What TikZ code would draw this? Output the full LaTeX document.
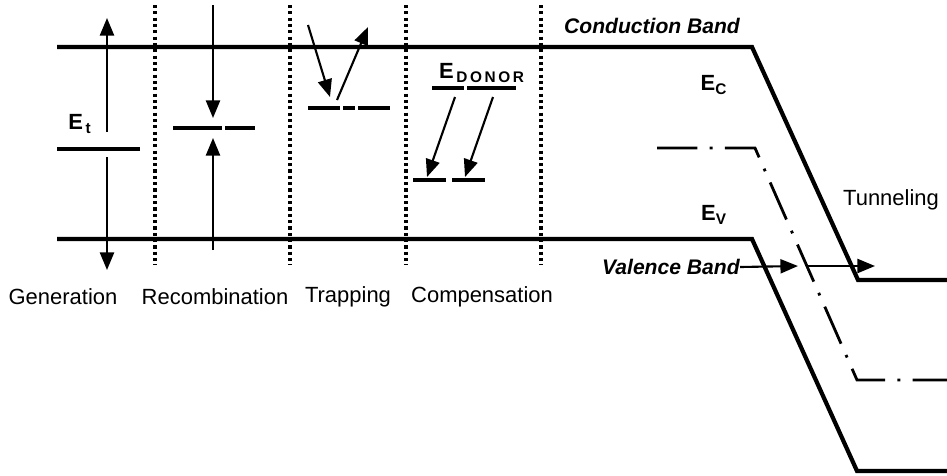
\documentclass[tikz,border=0pt]{standalone}
\usepackage{fontspec}
\setmainfont{Liberation Sans}
\usetikzlibrary{arrows.meta}

\newcommand\lev[2]{\textbf{#1}\textsubscript{\textbf{#2}}}

\tikzset{
  band/.style={line width=2.4pt},
  level/.style={line width=2.4pt},
  sep/.style={line width=1.8pt, dash pattern=on 1.8pt off 1.8pt},
  trans/.style={line width=1.2pt, -{Triangle[length=10pt,width=8pt]}},
  lbl/.style={font=\fontsize{12.5}{14}\selectfont},
  blbl/.style={font=\bfseries\itshape\fontsize{12}{14}\selectfont}
}

\begin{document}
\begin{tikzpicture}[x=0.2mm,y=-0.2mm]
\useasboundingbox (0,0) rectangle (947,475);
% bands
\draw [band] (57,47) -- (752,47) -- (858,280) -- (947,280);
\draw [band] (57,239) -- (752,239) -- (857,471) -- (947,471);
\draw [line width=1.6pt, dash pattern=on 23pt off 7pt on 1.6pt off 7pt] (657,148) -- (755,148) -- (857,380) -- (947,380);
% separators
\foreach \x in {155,290,406,541}
  \draw [sep] (\x,5) -- (\x,265);
% generation
\draw [level] (57,149) -- (140,149);
\draw [trans] (107,132) -- (107,18);
\draw [trans] (107,157) -- (107,270);
\node [lbl] (et) at (80,124) {\lev{E}{\,t}};
% recombination
\draw [level] (173,128) -- (222,128);
\draw [level] (225,128) -- (255,128);
\draw [trans] (213,5) -- (213,118);
\draw [trans] (213,250) -- (213,138);
% trapping
\draw [level] (308,108) -- (340,108);
\draw [level] (343,108) -- (355,108);
\draw [level] (358,108) -- (390,108);
\draw [trans] (308,25) -- (330,97);
\draw [trans] (337,100) -- (368,27);
% compensation
\draw [level] (432,88) -- (464,88);
\draw [level] (467,88) -- (516,88);
\draw [level] (413,180) -- (446,180);
\draw [level] (452,180) -- (485,180);
\draw [trans] (455,97) -- (427,177);
\draw [trans] (493,97) -- (465,177);
\node [lbl] (edonor) at (482,73) {\lev{E}{\,D\,O\,N\,O\,R}};
% labels
\node [lbl] (gen) at (63,297) {Generation};
\node [lbl] (rec) at (215,297) {Recombination};
\node [lbl] (trap) at (348,297) {Trapping};
\node [lbl] (comp) at (482,297) {Compensation};
\node [blbl] (cb) at (652,26) {Conduction Band};
\node [lbl] (ec) at (714,85) {\lev{E}{C}};
\node [lbl] (ev) at (714,215) {\lev{E}{V}};
\node [lbl] (tun) at (891,200) {Tunneling};
\node [blbl, anchor=east, inner sep=0pt] (vb) at (740,267) {Valence Band};
\coordinate (t1) at (798,266);
\coordinate (t2) at (808,266);
\coordinate (t3) at (875,266);
\draw [trans] (vb.east) -- (t1);
\draw [trans] (t2) -- (t3);
\end{tikzpicture}
\end{document}
